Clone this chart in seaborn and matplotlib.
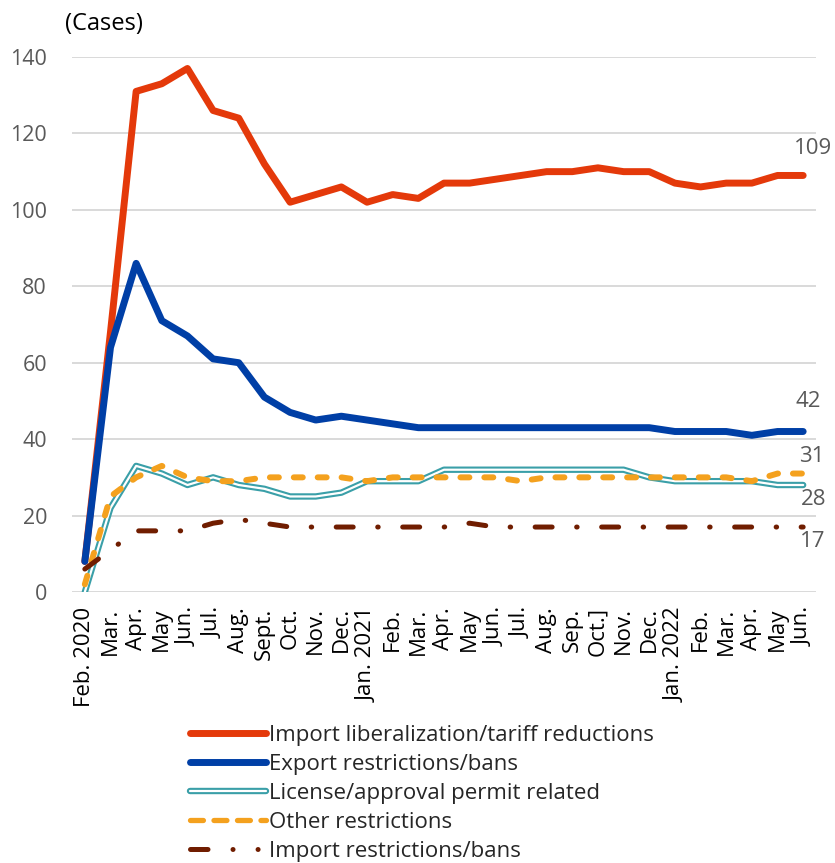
import matplotlib
matplotlib.use("Agg")
import matplotlib.pyplot as plt
from matplotlib.lines import Line2D
from matplotlib.legend_handler import HandlerTuple
import numpy as np
import pandas as pd
import seaborn as sns

months = ["Feb. 2020", "Mar.", "Apr.", "May", "Jun.", "Jul.", "Aug.", "Sept.",
          "Oct.", "Nov.", "Dec.", "Jan. 2021", "Feb.", "Mar.", "Apr.", "May",
          "Jun.", "Jul.", "Aug.", "Sep.", "Oct.]", "Nov.", "Dec.", "Jan. 2022",
          "Feb.", "Mar.", "Apr.", "May", "Jun."]

import_liberalization = [8, 68, 131, 133, 137, 126, 124, 112, 102, 104, 106, 102,
                         104, 103, 107, 107, 108, 109, 110, 110, 111, 110, 110,
                         107, 106, 107, 107, 109, 109]
export_restrictions = [8, 64, 86, 71, 67, 61, 60, 51, 47, 45, 46, 45, 44, 43, 43,
                       43, 43, 43, 43, 43, 43, 43, 43, 42, 42, 42, 41, 42, 42]
license_related = [0, 22, 33, 31, 28, 30, 28, 27, 25, 25, 26, 29, 29, 29, 32, 32,
                   32, 32, 32, 32, 32, 32, 30, 29, 29, 29, 29, 28, 28]
other_restrictions = [2, 25, 30, 33, 30, 29, 29, 30, 30, 30, 30, 29, 30, 30, 30,
                      30, 30, 29, 30, 30, 30, 30, 30, 30, 30, 30, 29, 31, 31]
import_restrictions = [6, 11, 16, 16, 16, 18, 19, 18, 17, 17, 17, 17, 17, 17, 17,
                       18, 17, 17, 17, 17, 17, 17, 17, 17, 17, 17, 17, 17, 17]

series_names = ["Import liberalization/tariff reductions", "Export restrictions/bans",
                "License/approval permit related", "Other restrictions",
                "Import restrictions/bans"]

df = pd.DataFrame({
    "pos": np.arange(len(months)),
    series_names[0]: import_liberalization,
    series_names[1]: export_restrictions,
    series_names[2]: license_related,
    series_names[3]: other_restrictions,
    series_names[4]: import_restrictions,
})

sns.set_theme(style="white")
plt.rcParams["font.family"] = ["Open Sans", "DejaVu Sans"]

RED = "#E4390A"
BLUE = "#003FA6"
TEAL = "#3A9FA8"
ORANGE = "#F4A11E"
BROWN = "#701D00"
GREY = "#595959"

fig = plt.figure(figsize=(8.35, 8.63), dpi=100)
ax = fig.add_axes([72 / 835, 1 - 592 / 863, (816 - 72) / 835, (592 - 57) / 863])

for y in range(0, 141, 20):
    ax.axhline(y, color="#D9D9D9", lw=1.4, zorder=0)

common = dict(x="pos", data=df, ax=ax, legend=False)
sns.lineplot(y=series_names[0], color=RED, lw=5.0, solid_capstyle="round",
             solid_joinstyle="round", zorder=3, **common)
sns.lineplot(y=series_names[1], color=BLUE, lw=5.0, solid_capstyle="round",
             solid_joinstyle="round", zorder=4, **common)
sns.lineplot(y=series_names[2], color=TEAL, lw=4.6, solid_capstyle="round",
             solid_joinstyle="round", zorder=5, **common)
sns.lineplot(y=series_names[2], color="white", lw=1.6, solid_capstyle="round",
             solid_joinstyle="round", zorder=5.1, **common)
sns.lineplot(y=series_names[3], color=ORANGE, lw=4.3, zorder=6,
             linestyle=(0, (1.5, 2.5)), dash_capstyle="round", **common)
sns.lineplot(y=series_names[4], color=BROWN, lw=3.6, zorder=7,
             linestyle=(0, (3.4, 4.9, 0.1, 4.9)), dash_capstyle="round", **common)

ax.set_xlim(-0.5, len(months) - 0.5)
ax.set_ylim(0, 140)
ax.set_yticks(range(0, 141, 20))
ax.set_xticks(df["pos"])
ax.set_xticklabels(months, rotation=90, va="top", ha="center")
ax.tick_params(axis="x", length=0, pad=11, labelsize=16, labelcolor="black")
ax.tick_params(axis="y", length=0, pad=18, labelsize=15.5, labelcolor=GREY)
ax.set_xlabel("")
ax.set_ylabel("")
for s in ax.spines.values():
    s.set_visible(False)
ax.set_facecolor("none")

fig.text(65 / 835, 1 - 24 / 863, "(Cases)", ha="left", va="center",
         fontsize=17, color="black")

# end-of-series value labels
last = len(months) - 1
end_labels = [
    (import_liberalization[last], (10, 27)),
    (export_restrictions[last], (5, 30)),
    (other_restrictions[last], (9, 17)),
    (license_related[last], (10, -14)),
    (import_restrictions[last], (10, -14)),
]
for val, off in end_labels:
    ax.annotate(f"{val}", xy=(last, val), xytext=off, textcoords="offset pixels",
                ha="center", va="center", fontsize=16, color=GREY,
                annotation_clip=False)

handles = [
    Line2D([], [], color=RED, lw=5.0, solid_capstyle="round"),
    Line2D([], [], color=BLUE, lw=5.0, solid_capstyle="round"),
    (Line2D([], [], color=TEAL, lw=4.6, solid_capstyle="round"),
     Line2D([], [], color="white", lw=1.6, solid_capstyle="round")),
    Line2D([], [], color=ORANGE, lw=3.8, linestyle=(0, (2.45, 2.0)),
           dash_capstyle="round"),
    Line2D([], [], color=BROWN, lw=3.6, linestyle=(0, (3.5, 5.0, 0.01, 5.0, 0.01, 10)),
           dash_capstyle="round"),
]
fig.legend(handles, series_names, loc="upper left",
           bbox_to_anchor=(190 / 835, 1 - 725 / 863), frameon=False,
           fontsize=16, handlelength=3.4, handletextpad=0.14, labelspacing=0.36,
           borderpad=0, borderaxespad=0,
           handler_map={tuple: HandlerTuple(ndivide=1)})

fig.savefig("out.png", dpi=100)
